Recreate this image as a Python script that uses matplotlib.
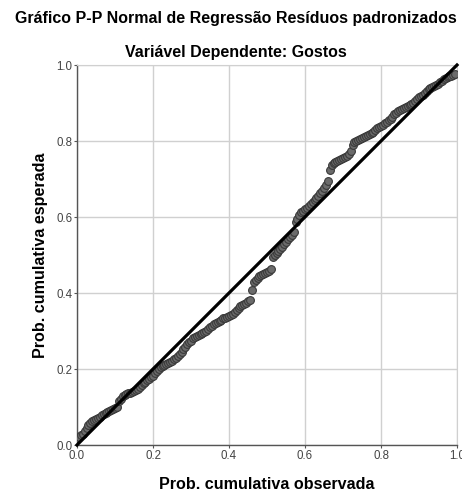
import matplotlib
matplotlib.use("Agg")
import matplotlib.pyplot as plt

plt.rcParams['font.family'] = ['Liberation Sans', 'DejaVu Sans']

title_line1 = "Gráfico P-P Normal de Regressão Resíduos padronizados"
title_line2 = "Variável Dependente: Gostos"
x_label = "Prob. cumulativa observada"
y_label = "Prob. cumulativa esperada"
tick_values = [0.0, 0.2, 0.4, 0.6, 0.8, 1.0]
tick_labels = ["0.0", "0.2", "0.4", "0.6", "0.8", "1.0"]

observed = [
    0.000, 0.005, 0.010, 0.015, 0.020, 0.025, 0.030, 0.035, 0.040, 0.045,
    0.050, 0.055, 0.060, 0.065, 0.070, 0.075, 0.080, 0.085, 0.090, 0.095,
    0.100, 0.105, 0.110, 0.115, 0.120, 0.125, 0.130, 0.135, 0.140, 0.145,
    0.150, 0.155, 0.160, 0.165, 0.170, 0.175, 0.180, 0.185, 0.190, 0.195,
    0.200, 0.205, 0.210, 0.215, 0.220, 0.225, 0.230, 0.235, 0.240, 0.245,
    0.250, 0.255, 0.260, 0.265, 0.270, 0.275, 0.280, 0.285, 0.290, 0.295,
    0.300, 0.305, 0.310, 0.315, 0.320, 0.325, 0.330, 0.335, 0.340, 0.345,
    0.350, 0.355, 0.360, 0.365, 0.370, 0.375, 0.380, 0.385, 0.390, 0.395,
    0.400, 0.405, 0.410, 0.415, 0.420, 0.425, 0.430, 0.435, 0.440, 0.445,
    0.450, 0.455, 0.460, 0.465, 0.470, 0.475, 0.480, 0.485, 0.490, 0.495,
    0.500, 0.505, 0.510, 0.515, 0.520, 0.525, 0.530, 0.535, 0.540, 0.545,
    0.550, 0.555, 0.560, 0.565, 0.570, 0.575, 0.580, 0.585, 0.590, 0.595,
    0.600, 0.605, 0.610, 0.615, 0.620, 0.625, 0.630, 0.635, 0.640, 0.645,
    0.650, 0.655, 0.660, 0.665, 0.670, 0.675, 0.680, 0.685, 0.690, 0.695,
    0.700, 0.705, 0.710, 0.715, 0.720, 0.725, 0.730, 0.735, 0.740, 0.745,
    0.750, 0.755, 0.760, 0.765, 0.770, 0.775, 0.780, 0.785, 0.790, 0.795,
    0.800, 0.805, 0.810, 0.815, 0.820, 0.825, 0.830, 0.835, 0.840, 0.845,
    0.850, 0.855, 0.860, 0.865, 0.870, 0.875, 0.880, 0.885, 0.890, 0.895,
    0.900, 0.905, 0.910, 0.915, 0.920, 0.925, 0.930, 0.935, 0.940, 0.945,
    0.950, 0.955, 0.960, 0.965, 0.970, 0.975, 0.980, 0.985, 0.990, 0.995]
expected = [
    0.018, 0.022, 0.026, 0.030, 0.036, 0.045, 0.052, 0.058, 0.062, 0.065,
    0.068, 0.071, 0.075, 0.078, 0.082, 0.085, 0.088, 0.090, 0.092, 0.094,
    0.097, 0.100, 0.115, 0.122, 0.128, 0.132, 0.135, 0.137, 0.138, 0.140,
    0.142, 0.145, 0.148, 0.152, 0.157, 0.162, 0.166, 0.171, 0.175, 0.178,
    0.182, 0.190, 0.196, 0.201, 0.205, 0.208, 0.210, 0.212, 0.215, 0.218,
    0.222, 0.226, 0.230, 0.235, 0.240, 0.246, 0.252, 0.259, 0.265, 0.270,
    0.275, 0.281, 0.285, 0.288, 0.290, 0.293, 0.295, 0.297, 0.300, 0.305,
    0.310, 0.314, 0.318, 0.321, 0.324, 0.327, 0.330, 0.333, 0.335, 0.337,
    0.340, 0.343, 0.346, 0.350, 0.355, 0.360, 0.365, 0.369, 0.372, 0.375,
    0.378, 0.381, 0.408, 0.428, 0.434, 0.440, 0.445, 0.448, 0.450, 0.452,
    0.455, 0.458, 0.462, 0.495, 0.500, 0.505, 0.510, 0.516, 0.522, 0.528,
    0.535, 0.541, 0.547, 0.553, 0.560, 0.587, 0.595, 0.605, 0.612, 0.617,
    0.620, 0.625, 0.630, 0.635, 0.640, 0.645, 0.650, 0.656, 0.662, 0.669,
    0.676, 0.685, 0.695, 0.725, 0.738, 0.742, 0.745, 0.748, 0.750, 0.752,
    0.754, 0.757, 0.760, 0.766, 0.775, 0.790, 0.797, 0.800, 0.803, 0.806,
    0.808, 0.811, 0.813, 0.816, 0.818, 0.821, 0.825, 0.829, 0.833, 0.836,
    0.840, 0.843, 0.847, 0.851, 0.855, 0.859, 0.863, 0.870, 0.875, 0.879,
    0.882, 0.885, 0.887, 0.890, 0.892, 0.895, 0.898, 0.901, 0.905, 0.910,
    0.915, 0.918, 0.922, 0.927, 0.932, 0.936, 0.940, 0.943, 0.945, 0.948,
    0.950, 0.954, 0.958, 0.962, 0.965, 0.968, 0.970, 0.972, 0.975, 0.977]
reference_line = [0.0, 1.0]

fig = plt.figure(figsize=(4.62, 4.95), dpi=100)
ax = fig.add_axes([77/462, 50/495, 380/462, 380/495])

ax.plot(observed, expected, linestyle='none', marker='o', markersize=5.6,
        markerfacecolor='#6b6b6b', markeredgecolor='#3a3a3a', markeredgewidth=0.8,
        zorder=3)
ax.plot(reference_line, reference_line, color='black', linewidth=2.3, zorder=4,
        clip_on=False)

ax.set_xlim(0, 1)
ax.set_ylim(0, 1)
ax.set_xticks(tick_values)
ax.set_xticklabels(tick_labels)
ax.set_yticks(tick_values)
ax.set_yticklabels(tick_labels)
ax.grid(True, color='#d0d0d0', linewidth=1.0, zorder=0)
ax.set_axisbelow(True)
for side in ['top', 'right']:
    ax.spines[side].set_color('#d0d0d0')
for side in ['left', 'bottom']:
    ax.spines[side].set_color('#555555')
    ax.spines[side].set_linewidth(1.0)
ax.tick_params(axis='both', labelsize=8.3, labelcolor='#444444', length=2,
               color='#555555', pad=1.5)

ax.set_xlabel(x_label, fontsize=11.6, fontweight='bold', labelpad=11)
ax.set_ylabel(y_label, fontsize=11.6, fontweight='bold', labelpad=6)

fig.text(0.51, 1 - 19/495, title_line1, ha='center', va='center',
         fontsize=11.5, fontweight='bold')
fig.text(0.51, 1 - 52/495, title_line2, ha='center', va='center',
         fontsize=11.5, fontweight='bold')

fig.savefig("out.png", dpi=100)
